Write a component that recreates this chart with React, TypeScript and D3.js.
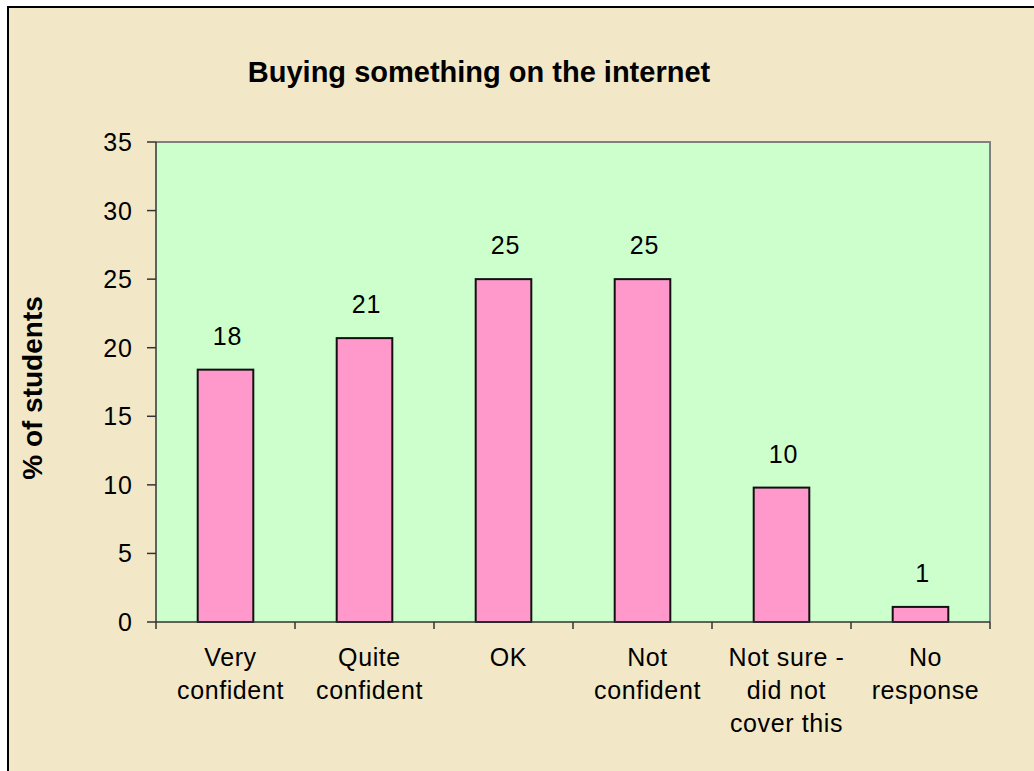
import React from "react";
import * as d3 from "d3";

const categories: string[][] = [
  ["Very", "confident"],
  ["Quite", "confident"],
  ["OK"],
  ["Not", "confident"],
  ["Not sure -", "did not", "cover this"],
  ["No", "response"],
];
const values: number[] = [18.4, 20.7, 25.0, 25.0, 9.8, 1.1];
const yTicks: number[] = [0, 5, 10, 15, 20, 25, 30, 35];
const title = "Buying something on the internet";
const yLabel = "% of students";

const W = 1034;
const H = 771;
const plot = { left: 156, right: 990, top: 142, bottom: 622 };

export default function App() {
  const keys = categories.map((_, i) => String(i));
  const x = d3
    .scaleBand<string>()
    .domain(keys)
    .range([plot.left, plot.right])
    .paddingInner(0.6)
    .paddingOuter(0.3);
  const xOuter = d3.scaleBand<string>().domain(keys).range([plot.left, plot.right]);
  const y = d3.scaleLinear().domain([0, 35]).range([plot.bottom, plot.top]);

  const font = "'Liberation Sans', Arial, sans-serif";
  const bandEdges = [...keys.map((k) => xOuter(k) as number), plot.right];
  const fs = 25;

  return (
    <svg
      width={W}
      height={H}
      style={{ position: "absolute", left: 0, top: 0, display: "block" }}
      fontFamily={font}
    >
      <rect x={0} y={0} width={W} height={H} fill="#ffffff" />
      <rect x={8} y={7} width={W + 20} height={H + 20} fill="#f2e8c7" stroke="#000" strokeWidth={2} />
      <text x={479} y={82} textAnchor="middle" fontSize={29} fontWeight="bold" fill="#000">
        {title}
      </text>
      <rect
        x={plot.left}
        y={plot.top}
        width={plot.right - plot.left}
        height={plot.bottom - plot.top}
        fill="#ccffcc"
      />
      <path
        d={`M${plot.left},${plot.top}H${plot.right}V${plot.bottom}`}
        fill="none"
        stroke="#808080"
        strokeWidth={2}
      />
      {values.map((v, i) => (
        <rect
          key={"b" + i}
          x={x(String(i))}
          y={y(v)}
          width={x.bandwidth()}
          height={y(0) - y(v)}
          fill="#ff99cc"
          stroke="#111"
          strokeWidth={2}
        />
      ))}
      {values.map((v, i) => (
        <text
          key={"l" + i}
          x={(x(String(i)) as number) + x.bandwidth() / 2 + 2}
          y={y(v) - 25}
          textAnchor="middle"
          fontSize={fs}
          letterSpacing={0.8}
          fill="#000"
        >
          {Math.round(v)}
        </text>
      ))}
      {/* axes */}
      <line x1={plot.left} x2={plot.left} y1={plot.top} y2={plot.bottom} stroke="#333" strokeWidth={1.5} />
      <line x1={plot.left} x2={plot.right} y1={plot.bottom} y2={plot.bottom} stroke="#333" strokeWidth={1.5} />
      {yTicks.map((t) => (
        <g key={"yt" + t}>
          <line x1={plot.left - 9} x2={plot.left} y1={y(t)} y2={y(t)} stroke="#333" strokeWidth={1.5} />
          <text x={133} y={y(t) + 9} textAnchor="end" fontSize={fs} letterSpacing={1} fill="#000">
            {t}
          </text>
        </g>
      ))}
      {bandEdges.map((e, i) => (
        <line key={"xt" + i} x1={e} x2={e} y1={plot.bottom} y2={plot.bottom + 7} stroke="#333" strokeWidth={1.5} />
      ))}
      {categories.map((lines, i) => (
        <text
          key={"c" + i}
          x={(xOuter(String(i)) as number) + xOuter.bandwidth() / 2 + 5}
          textAnchor="middle"
          fontSize={fs}
          letterSpacing={0.6}
          fill="#000"
        >
          {lines.map((ln, j) => (
            <tspan key={j} x={(xOuter(String(i)) as number) + xOuter.bandwidth() / 2 + 5} y={666 + j * 33}>
              {ln}
            </tspan>
          ))}
        </text>
      ))}
      <text
        transform={`translate(41.5,388) rotate(-90)`}
        textAnchor="middle"
        fontSize={28}
        fontWeight="bold"
        fill="#000"
      >
        {yLabel}
      </text>
    </svg>
  );
}
